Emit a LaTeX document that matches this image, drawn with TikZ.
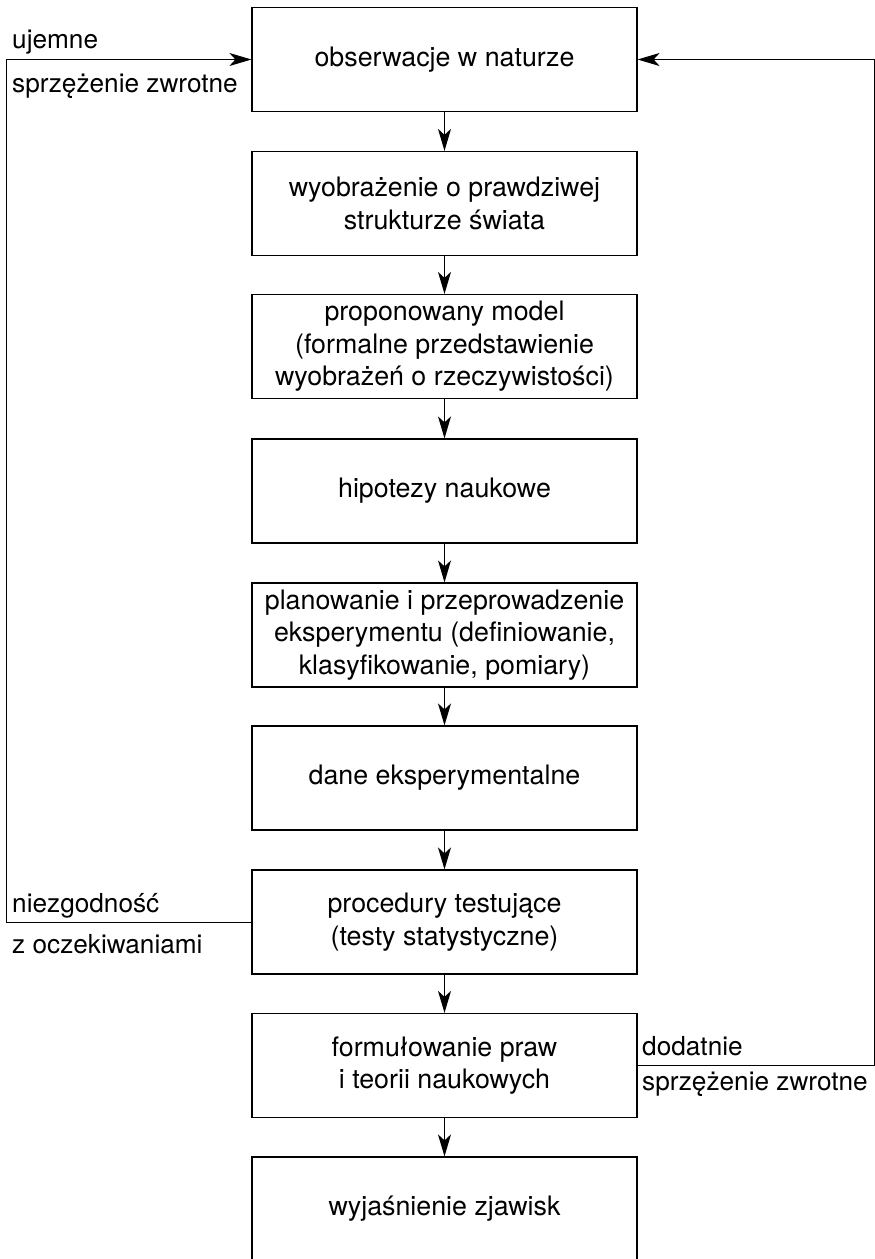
\documentclass[tikz,border=0pt]{standalone}
\usepackage{fontspec}
\setmainfont{TeX Gyre Heros}
\usetikzlibrary{arrows.meta}
\begin{document}
\begin{tikzpicture}[x=1pt,y=-1pt,
  box/.style={draw, line width=1.2pt, minimum width=385pt, minimum height=104pt,
    align=center, inner sep=2pt, font=\fontsize{26.8}{32.5}\selectfont},
  lbl/.style={anchor=base west, inner sep=0pt, font=\fontsize{26.2}{30}\selectfont},
  tip/.style={-{Stealth[length=22pt,width=13pt,inset=6pt]}},
  arr/.style={line width=1.2pt, tip},
  fb/.style={line width=1pt}]
\useasboundingbox (0,0) rectangle (875,1259);
\clip (0,0) rectangle (875,1259);
% main chain of steps
\node[box] (b1) at (444.5,59.5) {obserwacje w naturze};
\node[box] (b2) at (444.5,203.5) {wyobrażenie o prawdziwej\\strukturze świata};
\node[box] (b3) at (444.5,346.5) {proponowany model\\(formalne przedstawienie\\wyobrażeń o rzeczywistości)};
\node[box] (b4) at (444.5,491) {hipotezy naukowe};
\node[box] (b5) at (444.5,635) {planowanie i przeprowadzenie\\eksperymentu (definiowanie,\\klasyfikowanie, pomiary)};
\node[box] (b6) at (444.5,778) {dane eksperymentalne};
\node[box] (b7) at (444.5,922) {procedury testujące\\(testy statystyczne)};
\node[box] (b8) at (444.5,1065.5) {formułowanie praw\\i teorii naukowych};
\node[box] (b9) at (444.5,1209) {wyjaśnienie zjawisk};
\foreach \a/\b in {b1/b2,b2/b3,b3/b4,b4/b5,b5/b6,b6/b7,b7/b8,b8/b9}
  \draw[arr] (\a) -- (\b);
% feedback loops
\coordinate (lft) at (6,0);
\coordinate (rgt) at (874,0);
\draw[fb, tip] (b7.west) -- (b7.west -| lft) |- (b1.west);
\draw[fb, tip] (b8.east) -- (b8.east -| rgt) |- (b1.east);
% loop labels
\node[lbl] (n1) at (12,48) {ujemne};
\node[lbl] (n2) at (12,92) {sprzężenie zwrotne};
\node[lbl] (n3) at (12,912) {niezgodność};
\node[lbl] (n4) at (12,953) {z oczekiwaniami};
\node[lbl] (n5) at (642,1055) {dodatnie};
\node[lbl] (n6) at (642,1090) {sprzężenie zwrotne};
\end{tikzpicture}
\end{document}
